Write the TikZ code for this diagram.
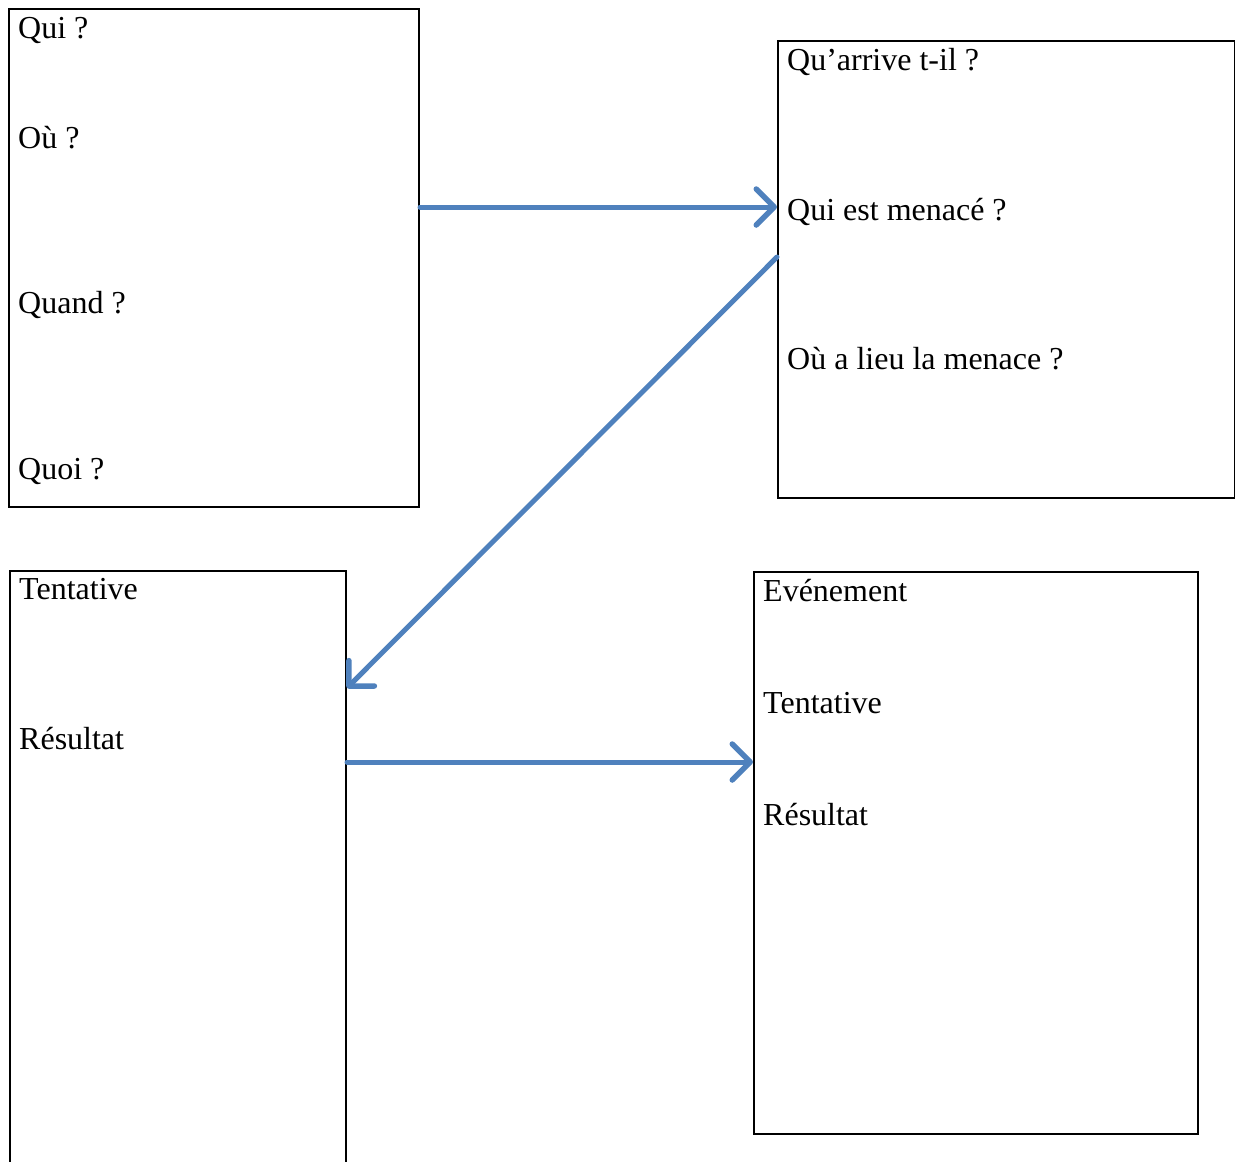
\documentclass[tikz,border=0pt]{standalone}
\usepackage{fontspec}
\setmainfont{Liberation Serif}
\usetikzlibrary{arrows.meta}
\definecolor{arrowblue}{HTML}{4F81BD}
\begin{document}
\begin{tikzpicture}[x=1pt,y=-1pt,
  box/.style={draw=black, line width=2pt, anchor=north west, inner sep=0pt},
  lbl/.style={anchor=base west, inner sep=0pt, font=\fontsize{32}{38}\selectfont},
  flow/.style={draw=arrowblue, line width=5pt, line cap=round,
    -{Straight Barb[length=18pt, width=36pt, line width=5.5pt, line cap=round, round]}}]
\useasboundingbox (0,0) rectangle (1235,1162);
\clip (0,0) rectangle (1235,1162);
\node[box, minimum width=410pt, minimum height=498pt] (b1) at (8,8) {};
\node[box, minimum width=457pt, minimum height=457pt] (b2) at (777,40) {};
\node[box, minimum width=336pt, minimum height=620pt] (b3) at (9,570) {};
\node[box, minimum width=444pt, minimum height=562pt] (b4) at (753,571) {};
% texts
\node[lbl] (t11) at (18,38) {Qui ?};
\node[lbl] (t12) at (18,148) {Où ?};
\node[lbl] (t13) at (18,313) {Quand ?};
\node[lbl] (t14) at (18,479) {Quoi ?};
\node[lbl] (t21) at (787,70) {Qu’arrive t-il ?};
\node[lbl] (t22) at (787,220) {Qui est menacé ?};
\node[lbl] (t23) at (787,369) {Où a lieu la menace ?};
\node[lbl] (t31) at (19,599) {Tentative};
\node[lbl] (t32) at (19,749) {Résultat};
\node[lbl] (t41) at (763,601) {Evénement};
\node[lbl] (t42) at (763,713) {Tentative};
\node[lbl] (t43) at (763,825) {Résultat};
% connector levels
\coordinate (y1) at (0,207);
\coordinate (y2s) at (0,257);
\coordinate (y2e) at (0,688);
\coordinate (y3) at (0,762);
\draw[flow] (b1.east |- y1) -- (b2.west |- y1);
\draw[flow] (b2.west |- y2s) -- (b3.east |- y2e);
\draw[flow] (b3.east |- y3) -- (b4.west |- y3);
\end{tikzpicture}
\end{document}
